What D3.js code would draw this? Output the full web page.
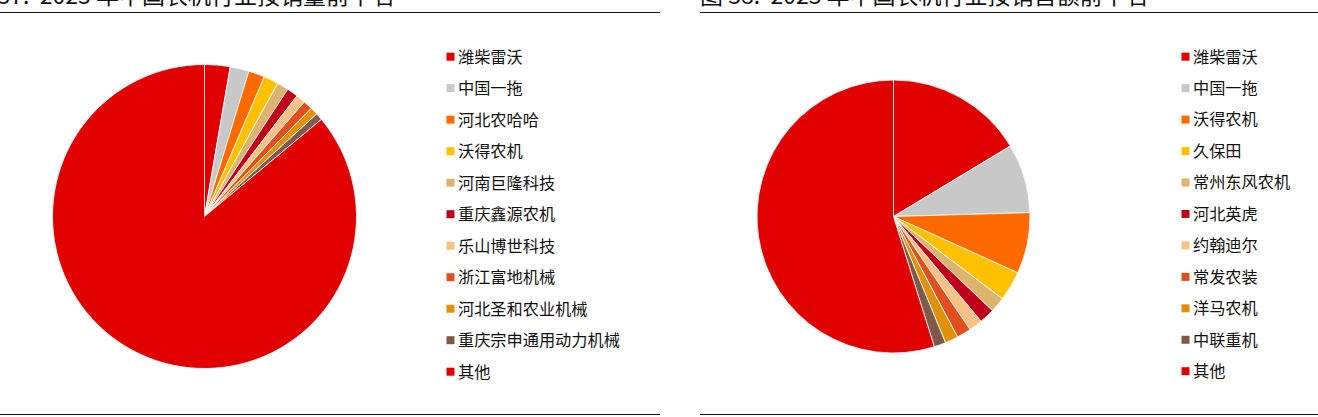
<!DOCTYPE html>
<html>
<head>
<meta charset="utf-8">
<script src="https://cdn.jsdelivr.net/npm/d3@7/dist/d3.min.js"></script>
<style>
html,body{margin:0;padding:0;background:#fff;}
svg{display:block;}
text{font-family:"Noto Sans CJK SC","Noto Sans",sans-serif;fill:#111;}
</style>
</head>
<body>
<svg id="c" width="1318" height="417"></svg>
<script>
// ---- data ----
const titleLeft = "图 37:  2023 年中国农机行业按销量前十名";
const titleRight = "图 38:  2023 年中国农机行业按销售额前十名";

const categoriesLeft = ["潍柴雷沃","中国一拖","河北农哈哈","沃得农机","河南巨隆科技","重庆鑫源农机","乐山博世科技","浙江富地机械","河北圣和农业机械","重庆宗申通用动力机械","其他"];
const valuesLeft = [2.71, 2.01, 1.72, 1.56, 1.22, 1.19, 1.00, 0.99, 0.82, 0.75, 86.03];

const categoriesRight = ["潍柴雷沃","中国一拖","沃得农机","久保田","常州东风农机","河北英虎","约翰迪尔","常发农装","洋马农机","中联重机","其他"];
const valuesRight = [16.36, 8.19, 7.22, 3.53, 1.81, 1.81, 1.61, 1.69, 1.56, 1.39, 54.83];

const colors = ["#E00000","#C8C8C8","#FF6A00","#FFC000","#DDB46E","#C0001A","#F9C183","#E0501E","#E0900A","#7E5A48","#E00000"];

// ---- drawing ----
const svg = d3.select("#c");

function panel(cfg){
  const g = svg.append("g");
  // title (cut by the top edge, as in the source)
  g.append("text").attr("x", cfg.titleX).attr("y", 4).attr("text-anchor",cfg.titleAnchor)
    .style("font-size","23px").style("white-space","pre").text(cfg.title);
  // rules
  g.append("line").attr("x1",cfg.x0).attr("x2",cfg.x1).attr("y1",12.5).attr("y2",12.5)
    .attr("stroke","#111").attr("stroke-width",1);
  g.append("line").attr("x1",cfg.x0).attr("x2",cfg.x1).attr("y1",414.5).attr("y2",414.5)
    .attr("stroke","#111").attr("stroke-width",1);

  const data = cfg.cats.map((c,i)=>({cat:c, value:cfg.vals[i], color:colors[i]}));
  const pie = d3.pie().sort(null).value(d=>d.value).startAngle(0).endAngle(2*Math.PI);
  const arc = d3.arc().innerRadius(0).outerRadius(cfg.r);
  const pg = g.append("g").attr("transform",`translate(${cfg.cx},${cfg.cy})`);
  pg.selectAll("path").data(pie(data)).enter().append("path")
    .attr("d",arc).attr("fill",d=>d.data.color)
    .attr("stroke","#fff").attr("stroke-width",0.8).attr("stroke-linejoin","round");

  // legend
  const y = d3.scalePoint().domain(cfg.cats.map((c,i)=>i)).range([cfg.ly0, cfg.ly1]);
  const lg = g.append("g");
  const rows = lg.selectAll("g").data(data).enter().append("g")
    .attr("transform",(d,i)=>`translate(${cfg.lx},${y(i)})`);
  rows.append("rect").attr("x",0).attr("y",-4).attr("width",8).attr("height",8)
    .attr("fill",d=>d.color);
  rows.append("text").attr("x",11.5).attr("y",0).attr("dy","0.36em")
    .style("font-size","16.2px").text(d=>d.cat);
}

panel({title:titleLeft, titleX:395, titleAnchor:"end", x0:0, x1:660, cx:204.5, cy:216.5, r:152,
  cats:categoriesLeft, vals:valuesLeft, lx:446.5, ly0:56.7, ly1:371.7});
panel({title:titleRight, titleX:700, titleAnchor:"start", x0:700, x1:1318, cx:893.5, cy:216.5, r:136.5,
  cats:categoriesRight, vals:valuesRight, lx:1181.5, ly0:56.7, ly1:371.2});
</script>
</body>
</html>
